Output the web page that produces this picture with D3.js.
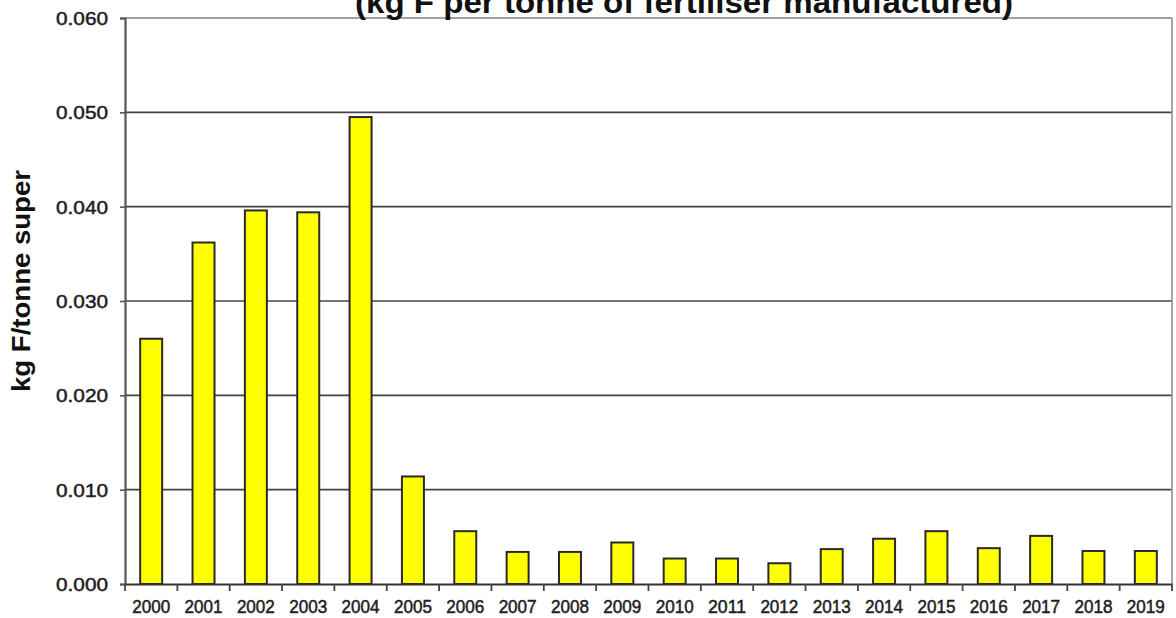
<!DOCTYPE html>
<html>
<head>
<meta charset="utf-8">
<script src="https://cdn.jsdelivr.net/npm/d3@7"></script>
<style>
  body { margin: 0; background: #fff; }
  svg { display: block; font-family: "Liberation Sans", Arial, sans-serif; }
</style>
</head>
<body>
<div id="chart"></div>
<script>
const years = ['2000', '2001', '2002', '2003', '2004', '2005', '2006', '2007', '2008', '2009',
  '2010', '2011', '2012', '2013', '2014', '2015', '2016', '2017', '2018', '2019'];
const values = [0.0260, 0.0362, 0.0396, 0.0394, 0.0495, 0.0114, 0.0056, 0.0034, 0.0034, 0.0044,
  0.0027, 0.0027, 0.0022, 0.0037, 0.0048, 0.0056, 0.0038, 0.0051, 0.0035, 0.0035];
const yTicks = [0, 0.01, 0.02, 0.03, 0.04, 0.05, 0.06];

const width = 1176, height = 618;
const margin = { top: 18, right: 4, bottom: 34, left: 125 };

const svg = d3.select('#chart').append('svg')
  .attr('width', width)
  .attr('height', height);

const x = d3.scaleBand()
  .domain(years)
  .range([margin.left, width - margin.right])
  .paddingInner(0.58)
  .paddingOuter(0.29);

const y = d3.scaleLinear()
  .domain([0, 0.06])
  .range([height - margin.bottom, margin.top]);

// gridlines
svg.append('g')
  .selectAll('line')
  .data(yTicks.slice(1))
  .enter()
  .append('line')
  .attr('x1', margin.left)
  .attr('x2', width - margin.right)
  .attr('y1', d => y(d))
  .attr('y2', d => y(d))
  .attr('stroke', d => d === 0.06 ? '#808080' : '#444')
  .attr('stroke-width', 1.6);

// right border
svg.append('line')
  .attr('x1', width - margin.right)
  .attr('x2', width - margin.right)
  .attr('y1', y(0.06))
  .attr('y2', y(0))
  .attr('stroke', '#909090')
  .attr('stroke-width', 1.6);

// bars
svg.append('g')
  .selectAll('rect')
  .data(values)
  .enter()
  .append('rect')
  .attr('x', (d, i) => x(years[i]))
  .attr('y', d => y(d))
  .attr('width', x.bandwidth())
  .attr('height', d => y(0) - y(d))
  .attr('fill', '#ffff00')
  .attr('stroke', '#2a2a2a')
  .attr('stroke-width', 2);

// y axis
const yAxis = svg.append('g')
  .attr('transform', `translate(${margin.left},0)`)
  .call(d3.axisLeft(y).tickValues(yTicks).tickFormat(d3.format('.3f')).tickSize(5).tickPadding(12));
yAxis.select('.domain').attr('stroke', '#555').attr('stroke-width', 2.2);
yAxis.selectAll('.tick line').attr('stroke', '#555').attr('stroke-width', 1.6);
yAxis.selectAll('.tick text')
  .attr('font-size', 19)
  .attr('fill', '#1e1e1e')
  .attr('stroke', '#1e1e1e')
  .attr('stroke-width', 0.5)
  .attr('textLength', 52)
  .attr('lengthAdjust', 'spacingAndGlyphs')
  .attr('dy', '0.35em');

// x axis
const xBand = d3.scaleBand().domain(years).range([margin.left, width - margin.right]);
const xAxis = svg.append('g')
  .attr('transform', `translate(0,${y(0)})`)
  .call(d3.axisBottom(xBand).tickSize(0).tickPadding(17));
xAxis.select('.domain').attr('stroke', '#333').attr('stroke-width', 1.8);
xAxis.selectAll('.tick text')
  .attr('font-size', 17.5)
  .attr('fill', '#1e1e1e')
  .attr('stroke', '#1e1e1e')
  .attr('stroke-width', 0.5)
  .attr('textLength', 38)
  .attr('lengthAdjust', 'spacingAndGlyphs');

// category boundary ticks
svg.append('g')
  .selectAll('line')
  .data(years.concat(['end']))
  .enter()
  .append('line')
  .attr('x1', (d, i) => margin.left + i * xBand.step())
  .attr('x2', (d, i) => margin.left + i * xBand.step())
  .attr('y1', y(0))
  .attr('y2', y(0) + 7)
  .attr('stroke', '#444')
  .attr('stroke-width', 1.8);

// axis label
svg.append('text')
  .attr('transform', 'translate(30,281) rotate(-90)')
  .attr('text-anchor', 'middle')
  .attr('font-size', 25)
  .attr('font-weight', 'bold')
  .attr('fill', '#111')
  .attr('textLength', 222)
  .attr('lengthAdjust', 'spacingAndGlyphs')
  .text('kg F/tonne super');

// title (partially cropped at top, as in the source image)
svg.append('text')
  .attr('x', 684)
  .attr('y', 13)
  .attr('text-anchor', 'middle')
  .attr('font-size', 31)
  .attr('font-weight', 'bold')
  .attr('fill', '#111')
  .attr('textLength', 658)
  .attr('lengthAdjust', 'spacingAndGlyphs')
  .text('(kg F per tonne of fertiliser manufactured)');
</script>
</body>
</html>
